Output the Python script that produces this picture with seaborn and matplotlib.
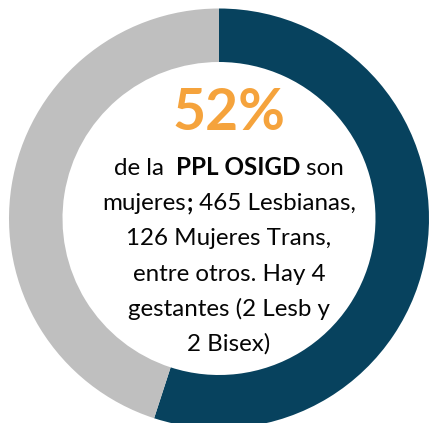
import matplotlib
matplotlib.use("Agg")
import matplotlib.pyplot as plt
import seaborn as sns

segments = ["Mujeres", "Otros"]
shares = [55, 45]
colors = ["#07425e", "#bfbfbf"]

headline = "52%"
# each line is a list of (text, bold) pieces
lines = [
    [("de la  ", False), ("PPL OSIGD", True), (" son", False)],
    [("mujeres", False), (";", True), (" 465 Lesbianas,", False)],
    [("126 Mujeres Trans,", False)],
    [("entre otros. Hay 4", False)],
    [("gestantes (2 Lesb y", False)],
    [("2 Bisex)", False)],
]

sns.set_theme(style="white")
plt.rcParams["font.family"] = ["Lato", "DejaVu Sans"]

W, H = 432, 423
fig = plt.figure(figsize=(W / 100, H / 100), dpi=100)
ax = fig.add_axes([0, 0, 1, 1])

cx, cy = 219, H - 218.5
ax.pie(shares, colors=colors, startangle=90, counterclock=False,
       center=(cx, cy), radius=210,
       wedgeprops=dict(width=53.5, linewidth=0))
ax.set_xlim(0, W)
ax.set_ylim(0, H)
ax.set_aspect("equal")
ax.axis("off")

tx = 229
ax.text(tx, H - 130, headline, color="#f5a33c", fontsize=41,
        fontweight="bold", ha="center", va="baseline")

renderer = fig.canvas.get_renderer()
fs = 17.4
baselines = [175, 210, 245, 281, 316, 351]
for parts, yb in zip(lines, baselines):
    objs = []
    for txt, bold in parts:
        t = ax.text(0, H - yb, txt, fontsize=fs, color="#050505",
                    fontweight="bold" if bold else "normal",
                    ha="left", va="baseline")
        objs.append(t)
    widths = [o.get_window_extent(renderer).width for o in objs]
    x = tx - sum(widths) / 2
    for o, w in zip(objs, widths):
        o.set_x(x)
        x += w

fig.savefig("out.png", dpi=100)
